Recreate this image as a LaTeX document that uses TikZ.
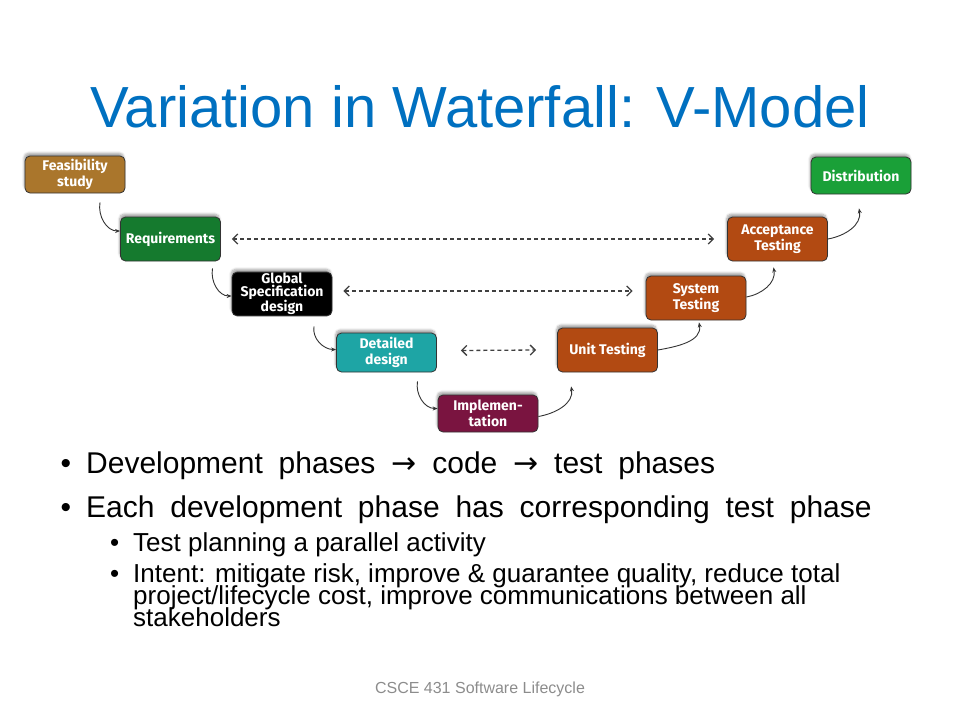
\documentclass[tikz,border=0pt]{standalone}
\usepackage{fontspec}
\setmainfont{Liberation Sans}
\newfontfamily\boxfont{Fira Sans}
\newfontfamily\widefont[WordSpace=1.9]{Liberation Sans}
\newfontfamily\arrowglyph{DejaVu Sans}
\newcommand\tightlines{\lineskiplimit=-30pt\relax}
\usetikzlibrary{arrows.meta,shadows.blur}
\definecolor{titleblue}{RGB}{0,112,192}
\definecolor{feasbrown}{RGB}{170,118,44}
\definecolor{reqgreen}{RGB}{21,122,46}
\definecolor{detteal}{RGB}{30,165,165}
\definecolor{implmaroon}{RGB}{122,20,64}
\definecolor{testrust}{RGB}{178,74,18}
\definecolor{distgreen}{RGB}{26,160,56}
\definecolor{footgray}{RGB}{140,140,140}

\begin{document}
\begin{tikzpicture}[%
        x = 1pt, y = 1pt,
        phase/.style = {draw=black!80, line width=0.8pt, rounded corners=5pt,
            minimum width=100pt, minimum height=39pt, inner sep=1pt,
            align=center, text=white,
            font=\boxfont\bfseries\fontsize{14}{15.5}\selectfont,
            blur shadow={shadow xshift=-1pt, shadow yshift=3pt,
                shadow blur steps=6, shadow opacity=35}},
        flow/.style = {-{Stealth[length=5pt,width=4pt]}, draw=black!80,
            line width=0.9pt},
        pair/.style = {{Straight Barb[length=5pt,width=10pt]}-{Straight Barb[length=5pt,width=10pt]},
            dash pattern=on 4pt off 3pt, line width=1.3pt, draw=black!75},
        bigtext/.style = {anchor=base west, inner sep=0pt,
            font=\widefont\fontsize{30}{32}\selectfont},
        smalltext/.style = {anchor=base west, inner sep=0pt,
            font=\fontsize{26}{22}\selectfont\tightlines}
    ]
      \useasboundingbox (0,0) rectangle (960,-720);
      \node (title) at (480,-127) [anchor=base, text=titleblue,
          font=\fontsize{58}{60}\selectfont] {Variation in Waterfall: V-Model};

      \node (feas) at (75,-174.5) [phase, fill=feasbrown, minimum height=37pt] {Feasibility\\study};
      \node (req) at (170.5,-239) [phase, fill=reqgreen, minimum height=44pt] {Requirements};
      \node (glob) at (282,-294) [phase, fill=black, minimum height=37pt,
          font=\boxfont\bfseries\fontsize{14}{9}\selectfont] {Global\\Specification\\design};
      \node (det) at (386.5,-352.5) [phase, fill=detteal] {Detailed\\design};
      \node (impl) at (488,-413.5) [phase, fill=implmaroon, minimum height=37pt] {Implemen-\\tation};
      \node (unit) at (607.5,-350) [phase, fill=testrust, minimum height=44pt] {Unit Testing};
      \node (sys) at (696,-298) [phase, fill=testrust, minimum height=44pt] {System\\Testing};
      \node (acc) at (777.5,-239) [phase, fill=testrust, minimum height=44pt] {Acceptance\\Testing};
      \node (dist) at (861,-175.5) [phase, fill=distgreen, minimum height=37pt] {Distribution};

      \draw[flow] ([xshift=25pt,yshift=-9pt]feas.south) to[out=-100,in=180] ([yshift=8pt]req.west);
      \draw[flow] ([xshift=42pt,yshift=-7pt]req.south) to[out=-100,in=180] ([yshift=-2pt]glob.west);
      \draw[flow] ([xshift=32pt,yshift=-10pt]glob.south) to[out=-100,in=180] ([yshift=3pt]det.west);
      \draw[flow] ([xshift=31pt,yshift=-9pt]det.south) to[out=-100,in=180] ([yshift=5pt]impl.west);
      \draw[flow] ([yshift=-3pt]impl.east) to[out=10,in=-80] ([shift={(14pt,-14pt)}]unit.south west);
      \draw[flow] (unit.east) to[out=10,in=-80] ([xshift=3pt,yshift=-2pt]sys.south);
      \draw[flow] ([yshift=1pt]sys.east) to[out=10,in=-80] ([xshift=-4pt,yshift=-6pt]acc.south);
      \draw[flow] (acc.east) to[out=10,in=-80] ([xshift=-2pt,yshift=-14pt]dist.south);

      \draw[pair] ([xshift=11pt]req.east) -- ([xshift=-13pt]acc.west);
      \draw[pair] ([xshift=11pt,yshift=3pt]glob.east) -- ([xshift=-13pt,yshift=7pt]sys.west);
      \draw[pair] ([xshift=24pt,yshift=2pt]det.east) -- ([xshift=-21pt]unit.west);

      \node (dot1) at (60.5,-473) [bigtext] {•};
      \node (line1) at (86,-473) [bigtext] {Development phases {\arrowglyph →} code {\arrowglyph →} test phases};
      \node (dot2) at (60.5,-517) [bigtext] {•};
      \node (line2) at (86,-517) [bigtext] {Each development phase has corresponding test phase};
      \node (dot3) at (110,-551) [smalltext] {•};
      \node (line3) at (133,-551) [smalltext] {Test planning a parallel activity};
      \node (dot4) at (110,-582) [smalltext] {•};
      \node (line4) at (133,-626) [smalltext, align=left] {Intent: mitigate risk, improve \& guarantee quality, reduce total\\project/lifecycle cost, improve communications between all\\stakeholders};

      \node (foot) at (480,-693) [anchor=base, text=footgray,
          font=\fontsize{16}{18}\selectfont] {CSCE 431 Software Lifecycle};
    \end{tikzpicture}
\end{document}
